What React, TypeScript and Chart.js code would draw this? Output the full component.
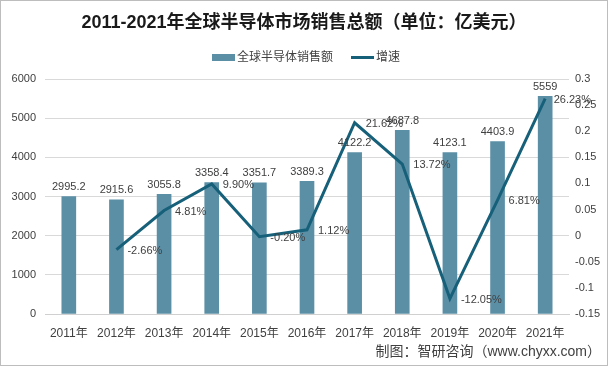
import React, { useEffect, useRef } from "react";
import { Chart, registerables } from "chart.js";

Chart.register(...registerables);

const years = ["2011年", "2012年", "2013年", "2014年", "2015年", "2016年", "2017年", "2018年", "2019年", "2020年", "2021年"];
const sales = [2995.2, 2915.6, 3055.8, 3358.4, 3351.7, 3389.3, 4122.2, 4687.8, 4123.1, 4403.9, 5559];
const growth = [null, -0.0266, 0.0481, 0.099, -0.002, 0.0112, 0.2162, 0.1372, -0.1205, 0.0681, 0.2623];
const salesLabel = "全球半导体销售额";
const growthLabel = "增速";
const titleText = "2011-2021年全球半导体市场销售总额（单位：亿美元）";
const sourceText = "制图：智研咨询（www.chyxx.com）";

const BAR = "#5B8FA6";
const LINE = "#17607A";
const TXT = "#404040";
const FONT = '"Liberation Sans", "Noto Sans CJK SC", sans-serif';

const decorPlugin = {
  id: "decor",
  afterDraw(chart: any) {
    const ctx = chart.ctx as CanvasRenderingContext2D;
    const W = chart.width;
    const H = chart.height;
    ctx.save();
    // border
    ctx.strokeStyle = "#bdbdbd";
    ctx.lineWidth = 1;
    ctx.strokeRect(0.5, 0.5, W - 1, H - 1);
    // title
    ctx.fillStyle = "#1a1a1a";
    ctx.font = `bold 18px ${FONT}`;
    ctx.textAlign = "center";
    ctx.textBaseline = "middle";
    ctx.fillText(titleText, W / 2, 23);
    // legend
    ctx.font = `12px ${FONT}`;
    ctx.textAlign = "left";
    ctx.fillStyle = BAR;
    ctx.fillRect(212, 54, 23, 7);
    ctx.fillStyle = TXT;
    ctx.fillText(salesLabel, 237, 58);
    ctx.strokeStyle = LINE;
    ctx.lineWidth = 3;
    ctx.beginPath();
    ctx.moveTo(351, 57.5);
    ctx.lineTo(374, 57.5);
    ctx.stroke();
    ctx.fillText(growthLabel, 376, 58);
    // source
    ctx.font = `14px ${FONT}`;
    ctx.textAlign = "right";
    ctx.fillStyle = TXT;
    ctx.fillText(sourceText, 601, 352);

    // bar labels
    ctx.font = `11px ${FONT}`;
    ctx.textAlign = "center";
    ctx.textBaseline = "bottom";
    const barMeta = chart.getDatasetMeta(0);
    barMeta.data.forEach((el: any, i: number) => {
      ctx.fillText(String(sales[i]), el.x, el.y - 4);
    });
    // line labels
    const lineMeta = chart.getDatasetMeta(1);
    ctx.textAlign = "left";
    ctx.textBaseline = "middle";
    lineMeta.data.forEach((el: any, i: number) => {
      const v = growth[i];
      if (v === null || v === undefined) return;
      const t = (v * 100).toFixed(2) + "%";
      const w = ctx.measureText(t).width;
      let x = el.x + 11;
      if (x + w > 591) x = 591 - w;
      ctx.fillText(t, x, el.y + 1);
    });
    ctx.restore();
  },
};

export default function App() {
  const ref = useRef<HTMLCanvasElement | null>(null);
  useEffect(() => {
    document.body.style.margin = "0";
    const chart = new Chart(ref.current as HTMLCanvasElement, {
      type: "bar",
      data: {
        labels: years,
        datasets: [
          {
            type: "bar",
            label: salesLabel,
            data: sales,
            backgroundColor: BAR,
            barThickness: 14,
            yAxisID: "y",
            order: 2,
          },
          {
            type: "line",
            label: growthLabel,
            data: growth,
            borderColor: LINE,
            borderWidth: 3,
            pointRadius: 0,
            tension: 0,
            yAxisID: "y1",
            order: 1,
          } as any,
        ],
      },
      options: {
        responsive: false,
        animation: false,
        layout: { padding: { top: 79, bottom: 28, left: 0, right: 0 } },
        plugins: { legend: { display: false }, title: { display: false }, tooltip: { enabled: false } },
        scales: {
          x: {
            offset: true,
            grid: { display: false },
            border: { color: "#d0d0d0" },
            ticks: { color: TXT, font: { family: FONT, size: 12 }, padding: 4, maxRotation: 0, autoSkip: false },
            afterFit: (s: any) => { s.height = 24; },
          },
          y: {
            position: "left",
            min: 0,
            max: 6000,
            grid: { color: "#d9d9d9", drawTicks: false },
            border: { display: false },
            ticks: {
              stepSize: 1000,
              color: TXT,
              font: { family: FONT, size: 11 },
              padding: 9,
              callback: (v: any) => String(Math.round(Number(v))),
            },
            afterFit: (s: any) => { s.width = 45; },
          },
          y1: {
            position: "right",
            min: -0.15,
            max: 0.3,
            grid: { display: false, drawTicks: false },
            border: { display: false },
            ticks: {
              stepSize: 0.05,
              color: TXT,
              font: { family: FONT, size: 11 },
              padding: 6,
              callback: (v: any) => String(parseFloat(Number(v).toFixed(2))),
            },
            afterFit: (s: any) => { s.width = 39; },
          },
        },
      },
      plugins: [decorPlugin],
    });
    return () => chart.destroy();
  }, []);
  return (
    <div style={{ position: "absolute", left: 0, top: 0, width: 608, height: 366, background: "#fff" }}>
      <canvas ref={ref} width={608} height={366} style={{ display: "block" }} />
    </div>
  );
}
